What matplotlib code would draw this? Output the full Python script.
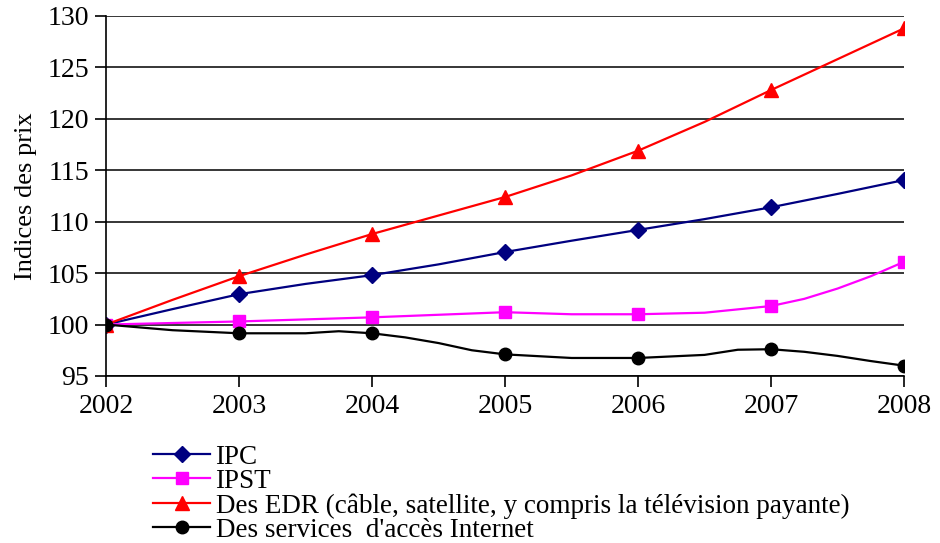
import matplotlib.pyplot as plt

plt.rcParams['font.family'] = ['Liberation Serif', 'DejaVu Serif']

# Yearly labels on the x axis
years = [2002, 2003, 2004, 2005, 2006, 2007, 2008]

# Half-yearly index values (2002 = 100)
x_half = [2002, 2002.5, 2003, 2003.5, 2004, 2004.5, 2005, 2005.5, 2006, 2006.5, 2007, 2007.5, 2008]
ipc = [100.0, 101.5, 102.95, 103.95, 104.8, 105.85, 107.05, 108.15, 109.2, 110.25, 111.4, 112.7, 114.05]
edr = [100.0, 102.4, 104.7, 106.8, 108.8, 110.6, 112.4, 114.5, 116.9, 119.7, 122.8, 125.8, 128.8]

# IPST, half-yearly with quarterly points in the last year
x_ipst = [2002, 2002.5, 2003, 2003.5, 2004, 2004.5, 2005, 2005.5, 2006, 2006.5, 2007, 2007.25, 2007.5, 2007.75, 2008]
ipst = [100.0, 100.15, 100.3, 100.5, 100.7, 100.95, 101.2, 101.0, 101.0, 101.15, 101.8, 102.5, 103.5, 104.7, 106.1]

# Internet access services, quarterly
x_net = [2002, 2002.5, 2003, 2003.5, 2003.75, 2004, 2004.25, 2004.5, 2004.75, 2005,
         2005.5, 2006, 2006.5, 2006.75, 2007, 2007.25, 2007.5, 2007.75, 2008]
internet = [100.0, 99.45, 99.15, 99.15, 99.35, 99.15, 98.75, 98.2, 97.5, 97.1,
            96.75, 96.75, 97.05, 97.55, 97.6, 97.35, 96.95, 96.45, 96.0]

labels = ["IPC", "IPST",
          "Des EDR (câble, satellite, y compris la télévision payante)",
          "Des services  d'accès Internet"]

def year_marks(xs):
    return [i for i, v in enumerate(xs) if float(v).is_integer()]

fig = plt.figure(figsize=(9.4, 5.43), dpi=100)
ax = fig.add_axes([0.1128, 0.3076, 0.849, 0.663])

ax.plot(x_half, ipc, color='#000080', lw=1.6, marker='D', ms=8,
        markevery=year_marks(x_half), label=labels[0])
ax.plot(x_ipst, ipst, color='#FF00FF', lw=1.6, marker='s', ms=9,
        markevery=year_marks(x_ipst), label=labels[1])
ax.plot(x_half, edr, color='#FF0000', lw=1.6, marker='^', ms=10,
        markevery=year_marks(x_half), label=labels[2])
ax.plot(x_net, internet, color='black', lw=1.6, marker='o', ms=9,
        markevery=year_marks(x_net), label=labels[3])

ax.set_xlim(2002, 2008)
ax.set_ylim(95, 130)
ax.set_xticks(years)
ax.set_xticklabels([str(y) for y in years])
ax.set_yticks(range(95, 131, 5))
ax.tick_params(axis='both', labelsize=20, length=8, width=1.2, color='black')
ax.tick_params(axis='x', pad=5)
ax.tick_params(axis='y', pad=4)

ax.grid(axis='y', color='black', lw=1.1)
ax.set_axisbelow(True)
for side in ['top', 'right']:
    ax.spines[side].set_visible(False)
for side in ['left', 'bottom']:
    ax.spines[side].set_linewidth(1.2)

ax.set_ylabel("Indices des prix", fontsize=19, labelpad=8)

fig.legend(loc='upper left', bbox_to_anchor=(0.163, 0.181), frameon=False,
           fontsize=19.5, handlelength=2.1, handletextpad=0.2,
           labelspacing=-0.03, borderpad=0, borderaxespad=0)

fig.savefig("out.png", dpi=100)
